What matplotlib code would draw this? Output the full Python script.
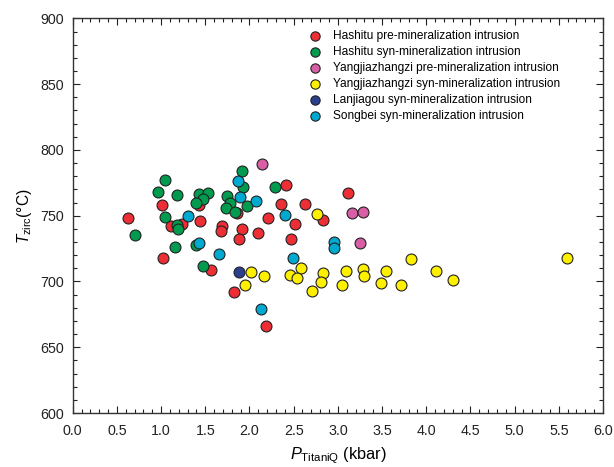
import matplotlib
matplotlib.use("Agg")
import matplotlib.pyplot as plt
from matplotlib.ticker import MultipleLocator

plt.rcParams['font.family'] = ['Liberation Sans', 'DejaVu Sans']
plt.rcParams['mathtext.fontset'] = 'custom'
plt.rcParams['mathtext.rm'] = 'Liberation Sans'
plt.rcParams['mathtext.it'] = 'Liberation Sans:italic'

# Hashitu pre-mineralization intrusion
hp_x = [0.63, 1.015, 1.11, 1.235, 1.02, 1.445, 1.43, 1.69, 1.68, 1.86, 1.57, 1.83,
        1.92, 1.88, 2.10, 2.215, 2.41, 2.355, 2.63, 3.11, 2.83, 2.52, 2.47, 2.19]
hp_y = [748, 758, 742, 744, 718, 746, 758, 742, 738, 752, 709, 692,
        740, 732, 737, 748, 773, 759, 759, 767, 747, 744, 732, 666]
# Hashitu syn-mineralization intrusion
hs_x = [0.70, 1.045, 0.97, 1.185, 1.045, 1.18, 1.19, 1.434, 1.53, 1.47, 1.39,
        1.743, 1.78, 1.735, 1.84, 1.92, 1.93, 1.97, 1.16, 1.39, 1.475, 2.29]
hs_y = [735, 777, 768, 766, 749, 743, 740, 766.5, 767.5, 763, 759.4,
        765, 760, 756, 753, 784, 771.5, 757, 726, 727.6, 712, 772]
# Yangjiazhangzi pre-mineralization intrusion
yp_x = [2.14, 3.16, 3.28, 3.245]
yp_y = [789, 752, 753, 729]
# Yangjiazhangzi syn-mineralization intrusion
ys_x = [2.015, 1.955, 2.166, 2.76, 2.585, 2.457, 2.54, 2.834, 2.81, 2.71, 3.09,
        3.045, 3.29, 3.30, 3.49, 3.55, 3.83, 3.72, 4.11, 4.30, 5.59]
ys_y = [707, 697, 704.3, 751, 710, 704.7, 702.6, 706.4, 699.5, 692.6, 708,
        697.2, 709.4, 704, 698.7, 708.3, 717, 697.2, 708.3, 701, 718]
# Lanjiagou syn-mineralization intrusion
ls_x = [1.88]
ls_y = [707]
# Songbei syn-mineralization intrusion
ss_x = [1.31, 1.43, 1.66, 1.87, 1.89, 2.07, 2.40, 2.96, 2.96, 2.49, 2.125]
ss_y = [749.4, 729, 721, 776.5, 764, 761, 750.5, 730.3, 725.6, 718.2, 679]

series = [
    ("Hashitu pre-mineralization intrusion", hp_x, hp_y, "#EE2E35"),
    ("Hashitu syn-mineralization intrusion", hs_x, hs_y, "#009B4E"),
    ("Yangjiazhangzi pre-mineralization intrusion", yp_x, yp_y, "#D85FA6"),
    ("Yangjiazhangzi syn-mineralization intrusion", ys_x, ys_y, "#FFF000"),
    ("Lanjiagou syn-mineralization intrusion", ls_x, ls_y, "#2B3F8E"),
    ("Songbei syn-mineralization intrusion", ss_x, ss_y, "#00A9CF"),
]

fig = plt.figure(figsize=(6.14, 4.67), dpi=100)
ax = fig.add_axes([0.1184, 0.1156, 0.8637, 0.845])

for label, xs, ys, c in series:
    ax.scatter(xs, ys, s=62, c=c, edgecolors="#222222", linewidths=0.8,
               label=label, zorder=3)

ax.set_xlim(0, 6.0)
ax.set_ylim(600, 900)
ax.xaxis.set_major_locator(MultipleLocator(0.5))
ax.xaxis.set_minor_locator(MultipleLocator(0.1))
ax.yaxis.set_major_locator(MultipleLocator(50))
ax.yaxis.set_minor_locator(MultipleLocator(10))
ax.xaxis.set_major_formatter(plt.FormatStrFormatter('%.1f'))
ax.tick_params(which='both', direction='in', top=True, right=True,
               labelsize=10.3, colors='#222222')
ax.tick_params(axis='x', which='both', pad=8)
ax.tick_params(axis='y', which='both', pad=6)
ax.tick_params(which='major', length=5, width=0.8)
ax.tick_params(which='minor', length=3, width=0.8)
for sp in ax.spines.values():
    sp.set_linewidth(1.0)
    sp.set_color('#333333')

ax.set_xlabel(r'$\mathit{P}_{\mathrm{TitaniQ}}$ (kbar)', fontsize=11.8, labelpad=5.5)
ax.set_ylabel(r'$\mathit{T}_{\mathrm{zirc}}$(°C)', fontsize=11.2, labelpad=5)

leg = ax.legend(loc='upper left', bbox_to_anchor=(0.425, 0.983), frameon=False,
                fontsize=8.6, handletextpad=0.5, labelspacing=0.34,
                scatterpoints=1, markerscale=0.85, borderaxespad=0)

fig.savefig("out.png", dpi=100)
